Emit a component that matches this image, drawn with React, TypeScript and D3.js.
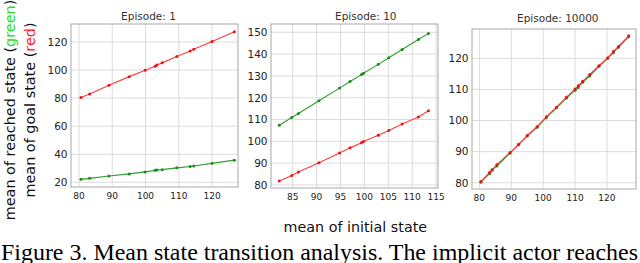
import React from "react";
import * as d3 from "d3";

const ep1Initial = [80.6, 83.2, 89.0, 95.1, 99.9, 102.9, 103.4, 105.0, 109.4, 113.4, 114.5, 120.0, 126.7];
const ep1Goal = [80.5, 83.0, 89.2, 95.3, 99.8, 102.7, 103.6, 105.1, 109.6, 113.5, 114.8, 120.3, 127.2];
const ep1Reached = [22.1, 22.8, 24.5, 26.0, 27.4, 28.5, 28.7, 29.0, 30.3, 31.3, 31.6, 33.5, 35.8];

const ep10Initial = [82.2, 84.8, 86.2, 90.5, 94.8, 97.0, 99.4, 99.8, 102.9, 105.1, 107.9, 111.3, 113.4];
const ep10Goal = [81.8, 84.3, 85.9, 90.2, 94.7, 97.0, 99.3, 99.9, 102.8, 105.0, 107.9, 111.2, 114.0];
const ep10Reached = [107.4, 110.9, 112.8, 118.6, 124.4, 127.4, 130.6, 131.2, 135.3, 138.3, 142.1, 146.7, 149.5];

const ep10000Initial = [80.5, 83.2, 84.0, 85.5, 89.6, 92.3, 95.0, 98.1, 101.0, 104.2, 107.3, 110.0, 111.0, 112.4, 114.6, 117.5, 120.2, 122.0, 123.6, 126.8];
const ep10000Goal = [80.4, 83.3, 84.1, 85.8, 89.7, 92.2, 95.2, 98.0, 101.2, 104.3, 107.5, 110.1, 111.2, 112.6, 114.8, 117.6, 120.1, 122.2, 123.8, 127.2];
const ep10000Reached = [80.2, 82.9, 84.2, 85.4, 89.5, 92.4, 95.0, 97.8, 100.9, 104.1, 107.2, 109.7, 110.6, 112.3, 114.3, 117.4, 120.0, 121.8, 123.5, 126.9];

const ep1XTicks = [80, 90, 100, 110, 120];
const ep1YTicks = [20, 40, 60, 80, 100, 120];
const ep10XTicks = [85, 90, 95, 100, 105, 110, 115];
const ep10YTicks = [80, 90, 100, 110, 120, 130, 140, 150];
const ep10000XTicks = [80, 90, 100, 110, 120];
const ep10000YTicks = [80, 90, 100, 110, 120];

const titles = ["Episode: 1", "Episode: 10", "Episode: 10000"];

const FONT = "DejaVu Sans, sans-serif";
const RED_LINE = "#ff3b3b";
const RED_DOT = "#ee1111";
const GREEN_LINE = "#2e9e2e";
const GREEN_DOT = "#1d8a1d";

type PanelProps = {
  title: string;
  titleX: number;
  titleY: number;
  box: [number, number, number, number];
  xDomain: [number, number];
  yDomain: [number, number];
  xTicks: number[];
  yTicks: number[];
  initial: number[];
  goal: number[];
  reached: number[];
};

function Panel(p: PanelProps) {
  const [x0, x1, y0, y1] = p.box;
  const x = d3.scaleLinear().domain(p.xDomain).range([x0, x1]);
  const y = d3.scaleLinear().domain(p.yDomain).range([y1, y0]);
  const line = (ys: number[]) =>
    d3
      .line<number>()
      .x((_, i) => x(p.initial[i]))
      .y((v) => y(v))(ys) as string;
  return (
    <g>
      <rect x={x0} y={y0} width={x1 - x0} height={y1 - y0} fill="#fff" />
      {p.xTicks.map((t) => (
        <line key={"gx" + t} x1={x(t)} x2={x(t)} y1={y0} y2={y1} stroke="#dcdcdc" strokeWidth={1} />
      ))}
      {p.yTicks.map((t) => (
        <line key={"gy" + t} x1={x0} x2={x1} y1={y(t)} y2={y(t)} stroke="#dcdcdc" strokeWidth={1} />
      ))}
      <path d={line(p.reached)} fill="none" stroke={GREEN_LINE} strokeWidth={1.1} />
      {p.reached.map((v, i) => (
        <circle key={"g" + i} cx={x(p.initial[i])} cy={y(v)} r={1.5} fill={GREEN_DOT} />
      ))}
      <path d={line(p.goal)} fill="none" stroke={RED_LINE} strokeWidth={1.1} />
      {p.goal.map((v, i) => (
        <circle key={"r" + i} cx={x(p.initial[i])} cy={y(v)} r={1.5} fill={RED_DOT} />
      ))}
      <rect x={x0} y={y0} width={x1 - x0} height={y1 - y0} fill="none" stroke="#a8a8a8" strokeWidth={1} />
      {p.xTicks.map((t) => (
        <text key={"tx" + t} x={x(t)} y={y1 + 12} fontSize={9} textAnchor="middle" fill="#222" fontFamily={FONT}>
          {t}
        </text>
      ))}
      {p.yTicks.map((t) => (
        <text key={"ty" + t} x={x0 - 3.5} y={y(t) + 3.8} fontSize={10.5} textAnchor="end" fill="#222" fontFamily={FONT}>
          {t}
        </text>
      ))}
      <text x={p.titleX} y={p.titleY} fontSize={10.5} textAnchor="middle" fill="#333" fontFamily={FONT}>
        {p.title}
      </text>
    </g>
  );
}

export default function App() {
  return (
    <svg width={640} height={263} style={{ position: "absolute", left: 0, top: 0 }}>
      <rect x={0} y={0} width={640} height={263} fill="#fff" />
      <Panel
        title={titles[0]}
        titleX={148.5}
        titleY={20.4}
        box={[71, 238, 24, 187]}
        xDomain={[77.6, 127.8]}
        yDomain={[16.65, 132.8]}
        xTicks={ep1XTicks}
        yTicks={ep1YTicks}
        initial={ep1Initial}
        goal={ep1Goal}
        reached={ep1Reached}
      />
      <Panel
        title={titles[1]}
        titleX={365.8}
        titleY={20.4}
        box={[271, 438, 24, 188]}
        xDomain={[80.46, 115.4]}
        yDomain={[78.6, 153.8]}
        xTicks={ep10XTicks}
        yTicks={ep10YTicks}
        initial={ep10Initial}
        goal={ep10Goal}
        reached={ep10Reached}
      />
      <Panel
        title={titles[2]}
        titleX={557.8}
        titleY={22}
        box={[472, 636, 29, 189]}
        xDomain={[77.7, 129.1]}
        yDomain={[78.0, 129.4]}
        xTicks={ep10000XTicks}
        yTicks={ep10000YTicks}
        initial={ep10000Initial}
        goal={ep10000Goal}
        reached={ep10000Reached}
      />
      <text
        transform="translate(14.5,110) rotate(-90)"
        textAnchor="middle"
        fontSize={14.4}
        fontFamily={FONT}
        fill="#111"
      >
        mean of reached state (<tspan fill="#22dd22">green</tspan>)
      </text>
      <text
        transform="translate(35,110) rotate(-90)"
        textAnchor="middle"
        fontSize={14.4}
        fontFamily={FONT}
        fill="#111"
      >
        mean of goal state (<tspan fill="#ff1a1a">red</tspan>)
      </text>
      <text x={355.3} y={232} textAnchor="middle" fontSize={14.3} fontFamily={FONT} fill="#111">
        mean of initial state
      </text>
      <text
        x={1}
        y={260}
        fontSize={23.5}
        fontFamily="Liberation Serif, Times New Roman, serif"
        fill="#000"
        textLength={637}
        lengthAdjust="spacingAndGlyphs"
      >
        Figure 3. Mean state transition analysis. The implicit actor reaches
      </text>
    </svg>
  );
}
